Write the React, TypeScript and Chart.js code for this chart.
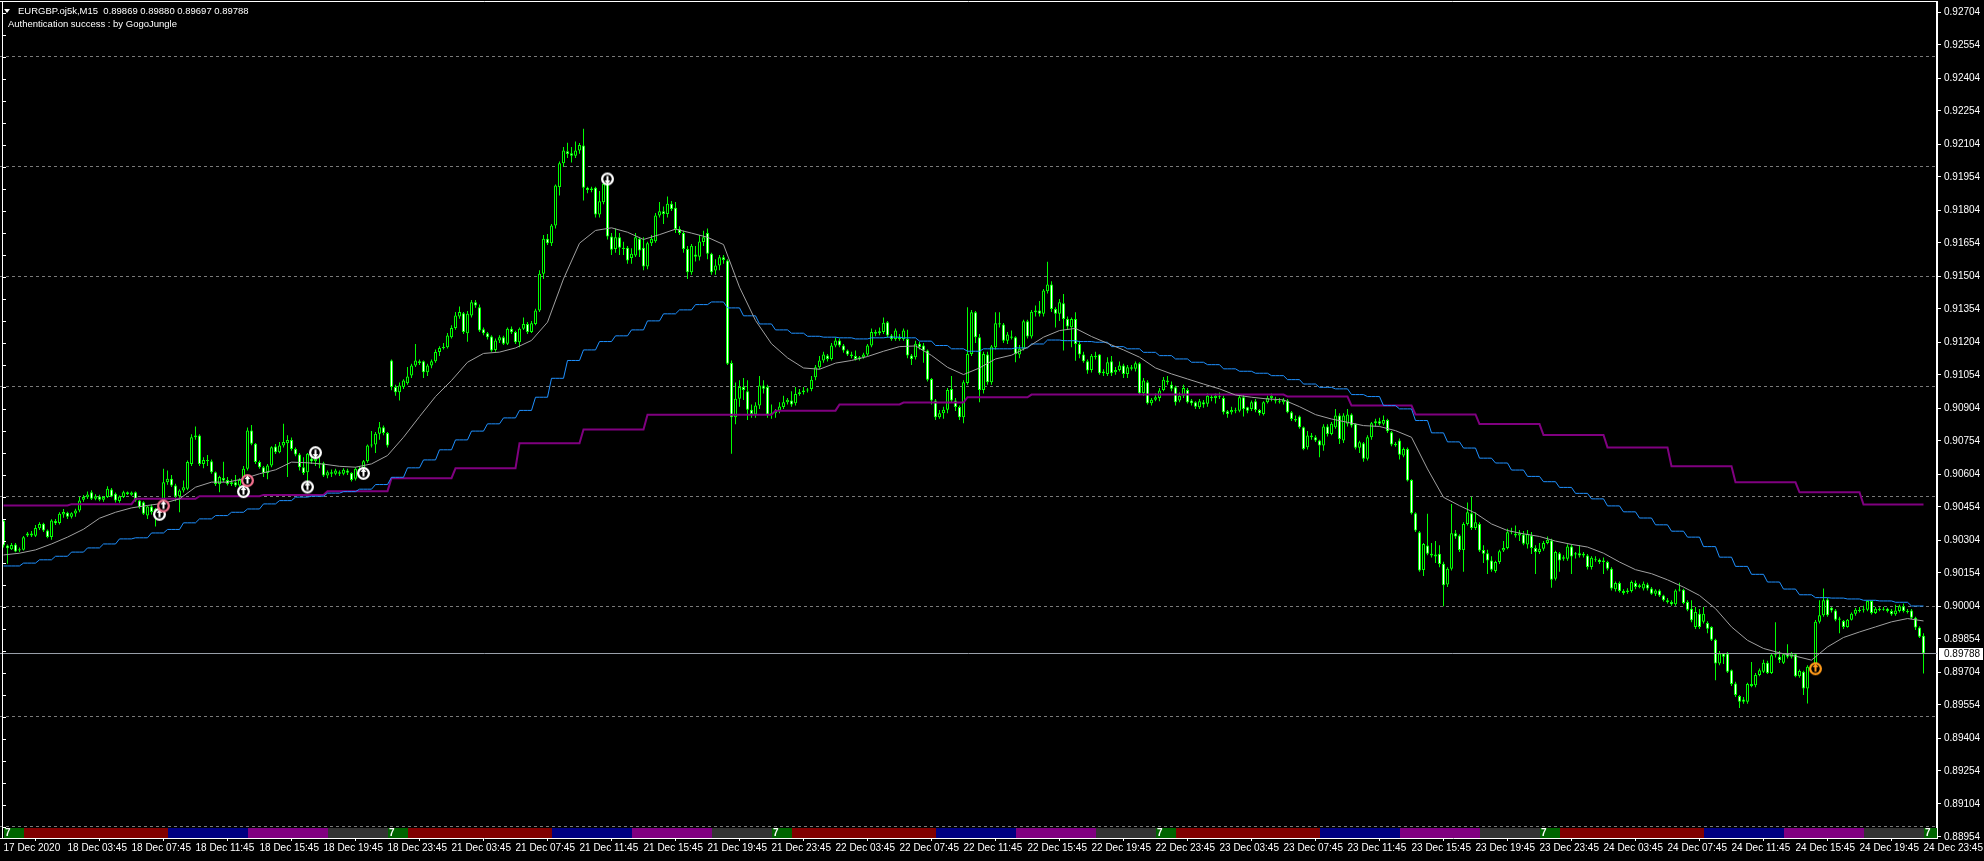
import React, { useEffect, useRef } from 'react';
import { Chart, registerables } from 'chart.js';

Chart.register(...registerables);

// Prices are stored in points (1e-5) above BASE: price = BASE + p / 100000
const BASE = 0.89;
const PT = 100000;

const HEADER = 'EURGBP.oj5k,M15  0.89869 0.89880 0.89697 0.89788';
const SUBHEADER = 'Authentication success : by GogoJungle';

// M15 bars: bar 0 = 17 Dec 23:45 ... bar 480 = 24 Dec 23:45
const OPEN = [
1393,1279,1262,1284,1256,1260,1325,1333,1323,1357,
1378,1347,1318,1390,1381,1420,1428,1410,1425,1438,
1487,1498,1521,1491,1502,1487,1499,1533,1514,1481,
1500,1521,1510,1521,1483,1476,1415,1456,1431,1445,
1468,1567,1582,1552,1503,1529,1537,1650,1771,1779,
1650,1668,1662,1612,1559,1586,1577,1559,1567,1552,
1574,1628,1802,1741,1658,1635,1608,1643,1729,1703,
1734,1744,1759,1718,1693,1635,1612,1673,1662,1653,
1653,1597,1612,1605,1612,1605,1620,1608,1582,1628,
1616,1662,1734,1738,1787,1817,1790,2120,1999,1976,
2000,2017,2052,2097,2117,2117,2067,2097,2117,2158,
2177,2180,2226,2268,2320,2335,2244,2324,2385,2362,
2262,2244,2229,2168,2211,2226,2196,2264,2249,2203,
2264,2286,2249,2286,2347,2514,2673,2653,2733,2908,
3017,3071,3062,3051,3074,3097,2905,2895,2905,2783,
2839,2930,2683,2627,2680,2632,2632,2586,2597,2673,
2632,2547,2653,2662,2779,2798,2786,2832,2814,2718,
2699,2627,2521,2602,2592,2658,2700,2605,2529,2552,
2589,2574,2109,1862,1946,1999,1980,1896,1874,1915,
2006,1999,1874,1880,1893,1908,1930,1938,1926,1968,
1976,1983,1990,2044,2089,2120,2143,2127,2188,2211,
2188,2165,2147,2140,2127,2135,2147,2188,2249,2244,
2249,2294,2233,2218,2226,2218,2218,2143,2135,2196,
2188,2165,2036,1938,1862,1880,1896,1990,1938,1908,
1862,2018,2150,2339,2226,1986,2147,2021,2180,2289,
2283,2210,2229,2226,2147,2173,2298,2229,2339,2347,
2332,2435,2465,2354,2332,2380,2309,2271,2309,2195,
2147,2117,2077,2142,2147,2062,2059,2117,2066,2077,
2097,2059,2089,2082,2107,1971,2021,1926,1941,1950,
1986,2029,2010,1998,1938,1960,1986,1938,1930,1907,
1930,1923,1955,1950,1960,1950,1889,1885,1892,1892,
1953,1907,1900,1935,1895,1877,1930,1950,1938,1935,
1930,1938,1885,1854,1865,1817,1726,1779,1771,1756,
1733,1820,1786,1817,1870,1756,1832,1874,1832,1723,
1744,1673,1771,1835,1844,1832,1850,1794,1741,1756,
1688,1718,1577,1426,1339,1168,1279,1241,1238,1241,
1196,1102,1173,1335,1324,1259,1377,1426,1359,1377,
1259,1244,1211,1163,1204,1256,1268,1339,1332,1324,
1329,1284,1324,1268,1249,1264,1290,1302,1128,1244,
1226,1219,1275,1238,1244,1234,1234,1181,1219,1214,
1204,1204,1173,1080,1108,1072,1068,1072,1108,1090,
1083,1102,1083,1060,1075,1052,1030,1022,1012,1075,
1078,1022,992,909,969,932,927,909,851,743,
788,788,712,652,595,579,569,649,644,690,
705,746,700,780,773,746,785,773,785,685,
705,629,728,728,932,962,1033,996,984,947,
936,909,942,969,987,985,987,1027,972,992,
987,992,981,966,981,1003,981,984,951,906,
869];

const HIGH = [
1400,1283,1290,1290,1270,1322,1340,1345,1372,1385,
1382,1352,1398,1400,1430,1445,1432,1430,1446,1500,
1508,1525,1530,1512,1510,1504,1548,1540,1520,1506,
1528,1525,1524,1524,1486,1480,1460,1465,1450,1478,
1628,1620,1600,1560,1535,1575,1665,1785,1820,1785,
1680,1690,1670,1615,1596,1660,1590,1580,1600,1585,
1640,1815,1827,1745,1665,1640,1650,1730,1740,1750,
1832,1780,1770,1725,1700,1680,1700,1715,1700,1680,
1660,1620,1625,1628,1620,1630,1628,1612,1635,1640,
1668,1738,1800,1795,1840,1825,1795,2125,2010,2020,
2035,2090,2105,2195,2125,2120,2105,2125,2170,2185,
2200,2245,2280,2340,2365,2340,2345,2395,2395,2375,
2270,2250,2235,2220,2235,2232,2270,2275,2255,2270,
2315,2295,2300,2355,2530,2690,2695,2740,2920,3025,
3090,3110,3090,3115,3108,3173,2910,2910,2910,2890,
2935,2935,2700,2720,2700,2660,2640,2630,2700,2680,
2680,2660,2690,2790,2840,2820,2865,2845,2840,2730,
2710,2640,2650,2640,2690,2710,2720,2610,2580,2600,
2600,2580,2120,2020,2030,2040,2030,1920,1930,2050,
2030,2010,1920,1900,1930,1960,1950,1980,2000,1990,
2000,1995,2050,2100,2140,2160,2150,2200,2225,2220,
2195,2170,2160,2165,2140,2155,2195,2265,2260,2270,
2315,2300,2240,2265,2240,2265,2260,2150,2210,2205,
2200,2170,2040,1945,1895,1910,1995,2050,1950,1915,
2030,2362,2350,2345,2240,2160,2160,2190,2339,2339,
2290,2250,2256,2230,2190,2305,2305,2350,2370,2390,
2445,2569,2480,2362,2400,2422,2320,2315,2339,2210,
2160,2125,2150,2160,2150,2080,2135,2140,2090,2115,
2105,2100,2100,2115,2112,2040,2030,1950,1970,1995,
2045,2050,2025,2005,1975,2010,1995,1945,1935,1945,
1940,1970,1965,1970,1975,1960,1895,1910,1905,1960,
1965,1910,1938,1945,1900,1935,1960,1970,1955,1950,
1950,1945,1890,1870,1870,1820,1800,1790,1780,1760,
1830,1830,1840,1900,1880,1880,1900,1880,1835,1755,
1750,1780,1840,1855,1860,1870,1855,1800,1750,1765,
1725,1725,1580,1430,1345,1290,1423,1290,1300,1280,
1205,1180,1468,1350,1330,1385,1475,1501,1430,1385,
1280,1260,1230,1210,1260,1300,1355,1360,1370,1350,
1345,1350,1340,1280,1290,1300,1320,1310,1255,1250,
1235,1285,1285,1250,1280,1250,1240,1230,1230,1220,
1225,1210,1180,1115,1115,1080,1085,1120,1120,1105,
1115,1110,1090,1080,1080,1055,1040,1030,1080,1110,
1082,1030,1030,1000,990,1000,935,912,855,800,
790,795,715,660,600,590,655,750,700,720,
760,755,790,930,800,790,830,795,790,715,
710,735,740,940,1030,1083,1040,1000,990,955,
940,945,975,995,1000,1005,1030,1030,1000,998,
1000,996,990,1010,1010,1015,990,990,955,912,
880];

const LOW = [
1270,1196,1258,1248,1250,1256,1318,1318,1318,1350,
1340,1312,1305,1372,1375,1405,1400,1402,1410,1430,
1478,1490,1486,1485,1480,1478,1495,1498,1475,1473,
1495,1508,1505,1478,1446,1418,1400,1420,1365,1425,
1460,1555,1545,1480,1430,1520,1530,1640,1760,1640,
1630,1640,1605,1550,1521,1568,1552,1550,1545,1545,
1565,1620,1735,1650,1628,1590,1580,1635,1695,1698,
1725,1590,1710,1685,1620,1600,1570,1650,1640,1630,
1590,1585,1590,1598,1595,1598,1600,1570,1575,1600,
1605,1655,1725,1700,1760,1780,1725,1985,1960,1938,
1990,2010,2040,2090,2100,2040,2050,2085,2110,2140,
2170,2175,2220,2260,2310,2240,2205,2315,2360,2250,
2235,2215,2160,2160,2200,2190,2190,2240,2195,2180,
2258,2240,2245,2280,2340,2490,2645,2640,2720,2870,
3000,3040,3020,3040,3060,2847,2880,2885,2770,2770,
2830,2670,2600,2610,2600,2600,2560,2560,2590,2590,
2530,2535,2640,2655,2770,2740,2770,2800,2700,2690,
2610,2490,2510,2570,2575,2640,2580,2510,2510,2530,
2560,2100,1696,1830,1910,1940,1850,1860,1860,1900,
1970,1860,1855,1860,1880,1900,1920,1910,1915,1960,
1965,1975,1980,2030,2080,2110,2115,2120,2180,2180,
2155,2140,2130,2120,2120,2128,2140,2180,2230,2235,
2240,2225,2210,2210,2210,2210,2130,2100,2125,2170,
2110,2025,1920,1850,1855,1855,1880,1930,1890,1850,
1835,2010,2140,2200,1930,1970,2010,2010,2170,2270,
2200,2195,2215,2112,2130,2165,2220,2220,2320,2320,
2320,2425,2340,2270,2300,2165,2260,2180,2119,2130,
2110,2060,2065,2125,2055,2050,2050,2050,2055,2070,
2040,2040,2075,2070,1965,1960,1920,1915,1935,1935,
1980,2010,1980,1915,1930,1950,1925,1915,1900,1900,
1905,1910,1935,1925,1945,1875,1860,1875,1880,1885,
1865,1880,1890,1885,1870,1870,1925,1935,1925,1925,
1920,1880,1845,1840,1810,1712,1715,1760,1750,1680,
1710,1775,1780,1810,1740,1745,1820,1815,1715,1700,
1660,1665,1760,1820,1825,1825,1790,1730,1728,1670,
1680,1570,1420,1340,1160,1140,1235,1225,1200,1180,
1003,1090,1165,1310,1250,1160,1370,1350,1350,1250,
1200,1150,1160,1155,1195,1250,1262,1330,1315,1300,
1280,1265,1240,1150,1240,1255,1285,1087,1120,1160,
1210,1210,1150,1220,1225,1225,1170,1170,1205,1195,
1150,1165,1075,1070,1065,1055,1060,1065,1080,1085,
1075,1075,1055,1050,1045,1025,1015,1005,1005,1070,
1012,980,930,900,900,925,880,845,667,735,
740,700,640,590,540,560,560,635,635,685,
700,695,695,770,745,740,765,765,680,678,
600,561,700,720,925,955,955,975,935,880,
900,905,938,960,975,975,980,965,968,980,
982,975,960,960,975,975,970,945,895,858,
697];

const CLOSE = [
1279,1266,1281,1252,1262,1317,1333,1324,1359,1377,
1347,1318,1393,1380,1423,1431,1410,1426,1438,1483,
1499,1511,1491,1503,1487,1499,1537,1502,1483,1502,
1521,1512,1520,1483,1453,1423,1456,1431,1445,1468,
1567,1582,1552,1502,1529,1544,1658,1771,1779,1650,
1668,1662,1612,1559,1590,1574,1559,1567,1552,1577,
1628,1802,1741,1658,1635,1608,1643,1726,1703,1734,
1749,1759,1718,1693,1635,1608,1696,1662,1673,1647,
1597,1612,1605,1620,1605,1623,1610,1577,1628,1612,
1662,1734,1738,1787,1817,1790,1734,1999,1976,2006,
2029,2047,2097,2120,2108,2067,2097,2117,2158,2177,
2180,2233,2268,2324,2340,2249,2332,2385,2370,2256,
2244,2226,2165,2211,2226,2196,2264,2248,2203,2264,
2286,2249,2289,2347,2514,2673,2653,2733,2915,3017,
3074,3059,3051,3074,3100,2905,2895,2902,2783,2844,
2923,2683,2623,2680,2632,2627,2574,2605,2680,2620,
2547,2653,2673,2779,2798,2786,2832,2809,2718,2699,
2627,2521,2642,2592,2661,2680,2605,2521,2552,2589,
2577,2105,1862,1946,1999,1986,1896,1877,1915,2006,
1991,1874,1880,1893,1911,1930,1941,1920,1968,1976,
1983,1986,2032,2089,2120,2147,2127,2188,2211,2188,
2165,2147,2140,2127,2135,2147,2188,2249,2241,2253,
2291,2233,2218,2256,2218,2256,2143,2127,2196,2180,
2165,2032,1938,1862,1880,1896,1986,1938,1908,1862,
2021,2150,2339,2226,1986,2150,2021,2183,2289,2283,
2210,2238,2223,2150,2173,2298,2229,2342,2347,2332,
2438,2465,2354,2332,2385,2309,2274,2309,2195,2147,
2117,2074,2142,2135,2062,2070,2112,2062,2077,2097,
2059,2089,2082,2107,1971,2029,1926,1941,1953,1983,
2032,2021,1991,1930,1960,1995,1930,1926,1910,1935,
1920,1960,1950,1960,1955,1885,1877,1895,1889,1953,
1900,1892,1930,1895,1880,1930,1950,1960,1935,1930,
1941,1885,1854,1847,1817,1718,1779,1771,1756,1733,
1820,1786,1832,1870,1763,1870,1874,1824,1723,1748,
1673,1771,1835,1844,1832,1850,1798,1738,1735,1692,
1718,1574,1426,1347,1165,1286,1241,1233,1229,1195,
1098,1173,1335,1320,1259,1377,1430,1359,1385,1256,
1241,1211,1169,1204,1253,1268,1339,1344,1324,1335,
1287,1332,1268,1249,1264,1290,1305,1123,1249,1211,
1219,1275,1229,1244,1234,1241,1181,1223,1214,1204,
1211,1173,1083,1108,1072,1063,1075,1113,1090,1098,
1105,1083,1060,1075,1052,1030,1022,1012,1075,1078,
1018,987,939,977,909,969,901,851,743,788,
773,705,649,599,569,569,649,640,690,712,
746,700,780,785,758,785,773,788,685,709,
629,728,715,932,962,1030,962,984,942,942,
909,942,969,987,981,987,1027,972,992,985,
992,981,966,984,1003,981,977,951,906,864,
788];

// H1 moving average (one value per hour; hour 0 = 17 Dec 23:00)
const BLUE_H1 = [
1186,1186,1199,1214,1230,1249,1268,1286,1309,1314,
1336,1352,1382,1400,1415,1430,1445,1468,1483,1499,
1503,1517,1524,1535,1556,1589,1632,1668,1714,1759,
1799,1832,1859,1893,1953,2039,2120,2168,2206,2232,
2259,2300,2332,2350,2374,2386,2359,2323,2286,2259,
2244,2230,2226,2223,2218,2223,2226,2223,2208,2188,
2173,2162,2173,2173,2177,2195,2213,2210,2206,2203,
2183,2173,2157,2142,2127,2112,2101,2082,2071,2062,
2051,2033,2013,1998,1991,1965,1956,1915,1900,1847,
1791,1750,1722,1676,1654,1622,1593,1569,1543,1516,
1491,1459,1432,1404,1373,1344,1317,1274,1226,1184,
1148,1113,1081,1055,1042,1040,1036,1030,1027,1021,
1004];

// H4 moving average (one value per 4 hours; block 0 = 17 Dec 20:00)
const PURPLE_H4 = [
1461,1461,1467,1491,1503,1509,1526,1585,1630,1744,
1806,1873,1873,1892,1920,1929,1953,1965,1965,1965,
1965,1956,1915,1875,1831,1781,1725,1639,1566,1521,
1465];

// M15 moving average, read every 4th bar
const GRAY_MA = [
1236,1244,1259,1286,1317,1353,1403,1430,1450,1461,
1471,1491,1544,1567,1567,1582,1605,1623,1658,1655,
1649,1639,1635,1650,1688,1771,1865,1956,2029,2112,
2152,2158,2177,2211,2294,2491,2653,2711,2723,2703,
2670,2692,2717,2699,2680,2647,2453,2302,2196,2132,
2086,2080,2108,2120,2138,2162,2183,2186,2143,2089,
2056,2086,2127,2144,2180,2226,2256,2266,2229,2198,
2168,2135,2086,2059,2036,2013,1991,1963,1953,1945,
1941,1910,1874,1854,1839,1824,1820,1801,1771,1627,
1498,1460,1426,1377,1347,1332,1320,1299,1284,1272,
1244,1204,1169,1151,1123,1090,1052,992,909,848,
811,791,776,758,818,861,886,909,932,947,
936];

const TIME_LABELS = [
  '17 Dec 2020', '18 Dec 03:45', '18 Dec 07:45', '18 Dec 11:45', '18 Dec 15:45', '18 Dec 19:45',
  '18 Dec 23:45', '21 Dec 03:45', '21 Dec 07:45', '21 Dec 11:45', '21 Dec 15:45', '21 Dec 19:45',
  '21 Dec 23:45', '22 Dec 03:45', '22 Dec 07:45', '22 Dec 11:45', '22 Dec 15:45', '22 Dec 19:45',
  '22 Dec 23:45', '23 Dec 03:45', '23 Dec 07:45', '23 Dec 11:45', '23 Dec 15:45', '23 Dec 19:45',
  '23 Dec 23:45', '24 Dec 03:45', '24 Dec 07:45', '24 Dec 11:45', '24 Dec 15:45', '24 Dec 19:45',
  '24 Dec 23:45'];
const BARS_PER_LABEL = 16;

const PRICE_LABELS = [
  '0.92704', '0.92554', '0.92404', '0.92254', '0.92104', '0.91954', '0.91804', '0.91654', '0.91504',
  '0.91354', '0.91204', '0.91054', '0.90904', '0.90754', '0.90604', '0.90454', '0.90304', '0.90154',
  '0.90004', '0.89854', '0.89704', '0.89554', '0.89404', '0.89254', '0.89104', '0.88954'];
const GRID_LEVELS = [0.925, 0.92, 0.915, 0.91, 0.905, 0.9, 0.895, 0.89];
const CURRENT_PRICE = 0.89788;
const CURRENT_LABEL = '0.89788';

const MARKER_BARS = [39, 40, 60, 61, 76, 78, 90, 151, 453];
const MARKER_PRICES = [1421, 1459, 1524, 1574, 1545, 1701, 1607, 2945, 719];
const MARKER_KINDS = ['up', 'pink', 'up', 'pink', 'up', 'down', 'up', 'down', 'orange'];

// trading-session strip (bar offsets within a day starting at 23:45)
const DAY_START_BARS = [0, 96, 192, 288, 384, 480];
const SESSION_BOUNDS = [0, 5, 41, 61, 81, 96];
const SESSION_COLORS = ['#006400', '#800000', '#000080', '#800080', '#333333'];
const SESSION_LABELS = ['7', '', '', '', ''];

const FONT = 'Liberation Sans';
const LIME = '#00ff00';
const PLOT_RIGHT = 1937;
const X_MIN = -0.875;
const X_MAX = X_MIN + PLOT_RIGHT / 4;
const Y_MAX = 0.92704 + 10 / 22000;
const Y_MIN = Y_MAX - 0.038;

const px = (p: number) => BASE + p / PT;

function makeMarker(kind: string): HTMLCanvasElement {
  const c = document.createElement('canvas');
  c.width = 15;
  c.height = 15;
  const g = c.getContext('2d') as CanvasRenderingContext2D;
  const ring = kind === 'pink' ? '#f0708c' : kind === 'orange' ? '#ff9a1a' : '#ffffff';
  g.fillStyle = ring;
  g.beginPath();
  g.arc(7.5, 7.5, 6.5, 0, Math.PI * 2);
  g.fill();
  g.fillStyle = '#000000';
  g.beginPath();
  g.arc(7.5, 7.5, 4.2, 0, Math.PI * 2);
  g.fill();
  g.fillStyle = kind === 'pink' ? '#ffffff' : ring;
  const up = kind !== 'down';
  g.fillRect(6.5, 4.5, 2, 6);
  g.beginPath();
  if (up) {
    g.moveTo(7.5, 2.5);
    g.lineTo(4.5, 6);
    g.lineTo(10.5, 6);
  } else {
    g.moveTo(7.5, 12.5);
    g.lineTo(4.5, 9);
    g.lineTo(10.5, 9);
  }
  g.closePath();
  g.fill();
  return c;
}

const decorPlugin = {
  id: 'mtDecor',
  afterDraw(chart: any) {
    const { ctx, chartArea: a, scales } = chart;
    const xs = scales.x;
    const ys = scales.y;
    ctx.save();
    // session strip
    ctx.save();
    ctx.beginPath();
    ctx.rect(a.left, a.top, a.right - a.left, a.bottom - a.top);
    ctx.clip();
    ctx.font = `bold 10px "${FONT}"`;
    ctx.textBaseline = 'middle';
    DAY_START_BARS.forEach((d) => {
      for (let j = 0; j < SESSION_COLORS.length; j++) {
        const x0 = Math.round(xs.getPixelForValue(d + SESSION_BOUNDS[j]));
        const x1 = Math.round(xs.getPixelForValue(d + SESSION_BOUNDS[j + 1]));
        ctx.fillStyle = SESSION_COLORS[j];
        ctx.fillRect(x0, a.bottom - 10, x1 - x0, 10);
        if (SESSION_LABELS[j]) {
          ctx.fillStyle = '#ffffff';
          ctx.fillText(SESSION_LABELS[j], x0 + 1, a.bottom - 4.5);
        }
      }
    });
    ctx.restore();
    // frame
    ctx.strokeStyle = '#ffffff';
    ctx.lineWidth = 1;
    ctx.beginPath();
    ctx.moveTo(0, a.top - 0.5);
    ctx.lineTo(a.right, a.top - 0.5);
    ctx.moveTo(2.5, a.top);
    ctx.lineTo(2.5, a.bottom);
    for (let v = 0.889; v < 0.928; v += 0.001) {
      const y = Math.round(ys.getPixelForValue(v)) + 0.5;
      if (y > a.top && y < a.bottom) {
        ctx.moveTo(2, y);
        ctx.lineTo(6, y);
      }
    }
    ctx.stroke();
    // current price box
    const py = Math.round(ys.getPixelForValue(CURRENT_PRICE));
    ctx.fillStyle = '#ffffff';
    ctx.fillRect(a.right + 2, py - 6, 44, 12);
    ctx.fillStyle = '#000000';
    ctx.font = `10px "${FONT}"`;
    ctx.textBaseline = 'middle';
    ctx.textAlign = 'left';
    ctx.fillText(CURRENT_LABEL, a.right + 7, py + 0.5);
    ctx.restore();
  },
};

export default function App() {
  const ref = useRef<HTMLCanvasElement | null>(null);

  useEffect(() => {
    if (!ref.current) return;
    const n = CLOSE.length;
    const bodies: any[] = [];
    const wicks: any[] = [];
    const fills: string[] = [];
    const blue: any[] = [];
    const purple: any[] = [];
    for (let i = 0; i < n; i++) {
      const o = OPEN[i];
      const c = CLOSE[i];
      bodies.push({ x: i, y: [px(Math.min(o, c)), px(Math.max(o, c))] });
      wicks.push({ x: i, y: [px(LOW[i]), px(HIGH[i])] });
      fills.push(c >= o ? '#000000' : '#ffffff');
      blue.push({ x: i, y: px(BLUE_H1[Math.floor((i + 3) / 4)]) });
      purple.push({ x: i, y: px(PURPLE_H4[Math.floor((i + 15) / 16)]) });
    }
    const gray = GRAY_MA.map((v, k) => ({ x: k * 4, y: px(v) }));
    const markers = MARKER_BARS.map((b, k) => ({ x: b, y: px(MARKER_PRICES[k]) }));
    const markerImgs = MARKER_KINDS.map((k) => makeMarker(k));

    const chart = new Chart(ref.current, {
      type: 'bar',
      data: {
        datasets: [
          {
            type: 'line',
            data: markers,
            showLine: false,
            pointStyle: markerImgs as any,
            pointRadius: 7,
            order: 0,
          } as any,
          {
            type: 'line',
            data: gray,
            borderColor: '#a0a0a0',
            borderWidth: 1,
            pointRadius: 0,
            tension: 0,
            order: 1,
          },
          {
            type: 'line',
            data: blue,
            borderColor: '#1e90ff',
            borderWidth: 1,
            pointRadius: 0,
            tension: 0,
            order: 2,
          },
          {
            type: 'line',
            data: purple,
            borderColor: '#800080',
            borderWidth: 2,
            pointRadius: 0,
            tension: 0,
            order: 3,
          },
          {
            type: 'line',
            data: [
              { x: X_MIN, y: CURRENT_PRICE },
              { x: X_MAX, y: CURRENT_PRICE },
            ],
            borderColor: '#9aa0aa',
            borderWidth: 1,
            pointRadius: 0,
            order: 4,
          },
          {
            type: 'bar',
            data: bodies,
            backgroundColor: fills,
            borderColor: LIME,
            borderWidth: 1,
            borderSkipped: false,
            grouped: false,
            categoryPercentage: 1,
            barPercentage: 1,
            maxBarThickness: 3,
            minBarLength: 1,
            inflateAmount: 0,
            order: 5,
          } as any,
          {
            type: 'bar',
            data: wicks,
            backgroundColor: LIME,
            borderWidth: 0,
            grouped: false,
            categoryPercentage: 1,
            barPercentage: 1,
            maxBarThickness: 1,
            minBarLength: 1,
            inflateAmount: 0,
            order: 6,
          } as any,
        ],
      },
      options: {
        responsive: false,
        animation: false,
        devicePixelRatio: 1,
        events: [],
        layout: { autoPadding: false, padding: { top: 2, left: 0, right: 0, bottom: 0 } },
        plugins: { legend: { display: false }, tooltip: { enabled: false } },
        scales: {
          x: {
            type: 'linear',
            position: 'bottom',
            min: X_MIN,
            max: X_MAX,
            offset: false,
            grid: { drawOnChartArea: false, drawTicks: true, tickLength: 3, color: '#ffffff' },
            border: { display: true, color: '#ffffff', width: 1 },
            ticks: {
              autoSkip: false,
              maxRotation: 0,
              minRotation: 0,
              align: 'start',
              padding: 1,
              color: '#ffffff',
              font: { family: FONT, size: 10 },
              callback: (_v: any, idx: number) => TIME_LABELS[idx] ?? '',
            },
            afterBuildTicks: (s: any) => {
              s.ticks = TIME_LABELS.map((_, k) => ({ value: k * BARS_PER_LABEL }));
            },
            afterFit: (s: any) => {
              s.height = 23;
              s.paddingLeft = 0;
              s.paddingRight = 0;
            },
          },
          y: {
            type: 'linear',
            position: 'right',
            min: Y_MIN,
            max: Y_MAX,
            grid: { drawOnChartArea: false, drawTicks: true, tickLength: 4, color: '#ffffff' },
            border: { display: true, color: '#ffffff', width: 2 },
            ticks: {
              padding: 3,
              color: '#ffffff',
              font: { family: FONT, size: 10 },
              callback: (_v: any, idx: number) => PRICE_LABELS[idx] ?? '',
            },
            afterBuildTicks: (s: any) => {
              s.ticks = PRICE_LABELS.map((t) => ({ value: parseFloat(t) }));
            },
            afterFit: (s: any) => {
              s.width = 1984 - PLOT_RIGHT;
              s.paddingTop = 0;
              s.paddingBottom = 0;
            },
          },
          yg: {
            type: 'linear',
            position: 'right',
            min: Y_MIN,
            max: Y_MAX,
            grid: { drawOnChartArea: true, drawTicks: false, color: '#7a7a7a', lineWidth: 1 },
            border: { display: false, dash: [3, 3] },
            ticks: { display: false },
            afterBuildTicks: (s: any) => {
              s.ticks = GRID_LEVELS.map((v) => ({ value: v }));
            },
            afterFit: (s: any) => {
              s.width = 0;
              s.paddingTop = 0;
              s.paddingBottom = 0;
            },
          },
        },
      } as any,
      plugins: [decorPlugin],
    });
    return () => chart.destroy();
  }, []);

  const textStyle: React.CSSProperties = {
    position: 'absolute',
    color: '#ffffff',
    fontFamily: FONT,
    fontSize: 9.5,
    lineHeight: '11px',
    whiteSpace: 'pre',
  };

  return (
    <div
      style={{
        position: 'fixed',
        left: 0,
        top: 0,
        width: 1984,
        height: 861,
        background: '#000000',
        overflow: 'hidden',
      }}
    >
      <canvas ref={ref} width={1984} height={861} style={{ display: 'block', width: 1984, height: 861 }} />
      <div
        style={{
          position: 'absolute',
          left: 4,
          top: 9,
          width: 0,
          height: 0,
          borderLeft: '3px solid transparent',
          borderRight: '3px solid transparent',
          borderTop: '4px solid #ffffff',
        }}
      />
      <div style={{ ...textStyle, left: 18, top: 5 }}>{HEADER}</div>
      <div style={{ ...textStyle, left: 8, top: 18 }}>{SUBHEADER}</div>
    </div>
  );
}
